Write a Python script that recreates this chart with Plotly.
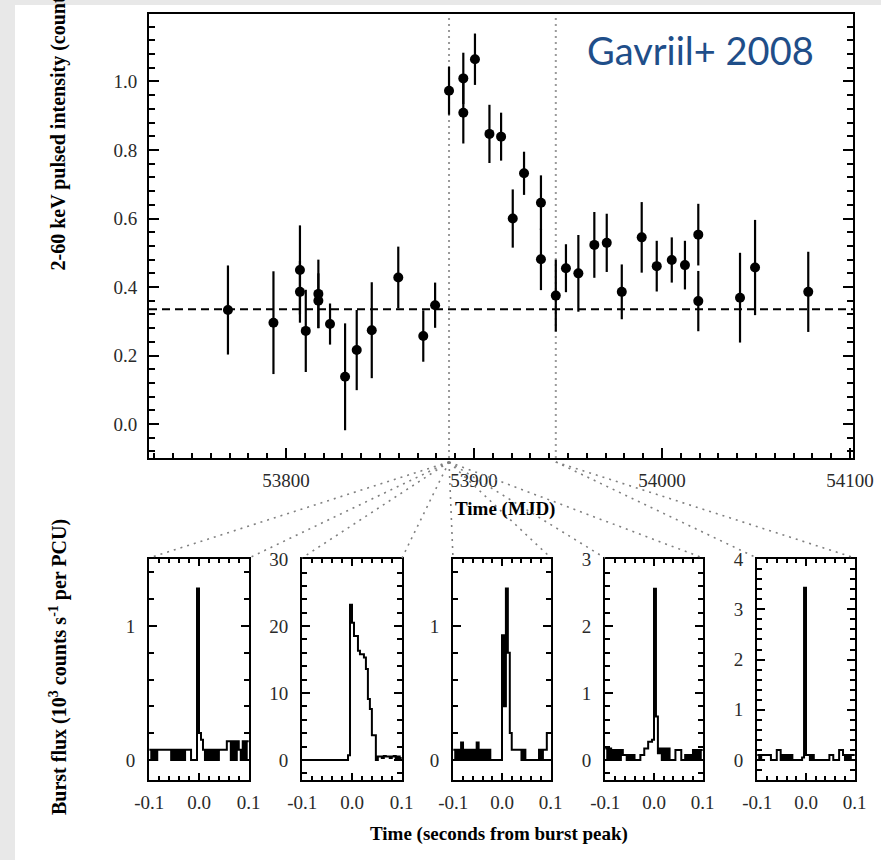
import numpy as np
import plotly.graph_objects as go

# ---------------- data ----------------
# top panel: pulsed intensity vs time
mjd = [53769.1, 53793.3, 53807.4, 53807.4, 53810.5, 53817.2, 53817.2, 53823.4, 53831.4, 53837.6,
       53845.6, 53859.7, 53873.0, 53879.3, 53886.7, 53894.3, 53894.3, 53900.5, 53908.2, 53914.4,
       53920.6, 53926.6, 53935.6, 53935.6, 53943.5, 53948.9, 53955.5, 53964.0, 53970.6, 53978.6,
       53989.2, 53997.2, 54005.2, 54012.2, 54019.3, 54019.3, 54041.5, 54049.5, 54077.8]
pulsed = [0.333, 0.296, 0.450, 0.386, 0.272, 0.380, 0.360, 0.292, 0.138, 0.216,
          0.274, 0.428, 0.257, 0.347, 0.973, 1.009, 0.909, 1.065, 0.847, 0.839,
          0.600, 0.732, 0.646, 0.481, 0.375, 0.455, 0.440, 0.523, 0.529, 0.386,
          0.545, 0.461, 0.479, 0.464, 0.553, 0.359, 0.369, 0.457, 0.386]
pulsed_err = [0.130, 0.150, 0.130, 0.090, 0.120, 0.100, 0.080, 0.060, 0.156, 0.117,
              0.140, 0.090, 0.075, 0.066, 0.070, 0.075, 0.090, 0.075, 0.085, 0.070,
              0.085, 0.063, 0.080, 0.090, 0.105, 0.070, 0.112, 0.096, 0.085, 0.080,
              0.103, 0.074, 0.066, 0.071, 0.090, 0.088, 0.131, 0.139, 0.117]
quiescent_level = 0.335
window_mjd = [53886.7, 53943.5]

# bottom panels: burst light curves (10^3 counts/s per PCU), 50 bins from -0.1 s to 0.1 s
burst_mjd = [53886.7, 53886.7, 53886.7, 53886.7, 53943.5]
bin_width = 0.004
flux_burst1 = [0.075, 0, 0.075, 0,
               0.075, 0.075, 0.075, 0.075, 0.075, 0.075, 0.075,
               0, 0.075, 0, 0.075, 0, 0.075, 0,
               0.075, 0.075, 0.075,
               0, 0, 0,
               1.28, 0.2, 0.15, 0.075,
               0, 0.075, 0, 0.075, 0, 0.075, 0,
               0.075, 0.075, 0.075, 0.075,
               0.14, 0.14,
               0, 0.14, 0, 0.14, 0.075, 0, 0.14, 0, 0.14]
flux_burst2 = [0, 0, 0, 0, 0, 0, 0, 0, 0, 0, 0, 0, 0, 0, 0, 0, 0, 0, 0, 0, 0, 0, 0,
               0.7,
               23.2, 20.5, 18.5, 18.5, 16.3, 15.8, 15.8, 15.3, 13.6, 9.1, 7.6, 3.7, 3.7,
               0, 0.5, 0.5, 0.3, 0.6, 0.5, 0.5, 0.3, 0.5, 0.6, 0.3, 0.5, 0.3]
flux_burst3 = [0.075, 0, 0.075, 0,
               0.13,
               0, 0.075, 0, 0.075, 0, 0.075, 0,
               0.13,
               0, 0.075, 0, 0.075, 0, 0.075,
               0, 0, 0, 0, 0, 0,
               0.93, 0.4, 1.28, 0.8, 0.2,
               0.075, 0.075, 0.075, 0.075,
               0.075, 0, 0.075, 0,
               0, 0, 0, 0, 0, 0,
               0.075, 0, 0.075, 0.075,
               0.2, 0.2]
flux_burst4 = [0.17, 0, 0.17, 0,
               0.15, 0, 0.15, 0, 0.15,
               0.075, 0.075,
               0, 0.075, 0, 0.075,
               0, 0, 0,
               0.075, 0.075,
               0.17, 0.17,
               0.27, 0.27, 0.3,
               2.56, 0.65, 0.1,
               0.17, 0, 0.17, 0, 0.17,
               0, 0, 0,
               0.15, 0.15, 0.15,
               0, 0,
               0.075, 0, 0.075, 0,
               0.15, 0, 0.15, 0, 0.15]
flux_burst5 = [0.1, 0, 0.1,
               0.1, 0.1, 0.1, 0.1,
               0, 0, 0,
               0.2, 0.2,
               0, 0.1, 0, 0.1, 0, 0.1,
               0, 0, 0, 0, 0,
               0.05, 3.43, 0.1, 0.1,
               0, 0.1, 0,
               0, 0, 0, 0, 0, 0, 0,
               0.1, 0.1,
               0, 0, 0,
               0.2, 0.2,
               0.1, 0, 0.1, 0, 0.1, 0.1]
burst_fluxes = [flux_burst1, flux_burst2, flux_burst3, flux_burst4, flux_burst5]
burst_ytick_labels = [["0", "1"], ["0", "10", "20", "30"], ["0", "1"],
                      ["0", "1", "2", "3"], ["0", "1", "2", "3", "4"]]
time_tick_labels = ["-0.1", "0.0", "0.1"]

# ---------------- layout geometry (pixels) ----------------
W, H = 881, 860
top_px = dict(x=(149, 853), y=(14, 458))
panel_px_x = [(149, 249), (302, 402), (453, 551), (605, 703), (757, 855)]
panel_px_y = (559, 780)
top_xrange = [53727.1, 54101.6]
top_yrange = [-0.099, 1.197]
panel_yranges = [[-0.15, 1.5], [-3, 30.02], [-0.15, 1.5], [-0.3, 3.003], [-0.4, 4.004]]
panel_minor = [0.2, 2, 0.2, 0.2, 0.2]


def xdom(a, b):
    return [a / W, b / W]


def ydom(a, b):
    return [1 - b / H, 1 - a / H]


SERIF = "Liberation Serif"
TICKFONT = dict(family=SERIF, size=19, color="#2a2a2a")

fig = go.Figure()

# top panel points with error bars
fig.add_trace(go.Scatter(
    x=mjd, y=pulsed, mode="markers",
    marker=dict(color="black", size=10),
    error_y=dict(type="data", array=pulsed_err, width=0, thickness=2.2, color="black"),
    xaxis="x", yaxis="y", showlegend=False, hoverinfo="skip"))

# burst histograms
for i, flux in enumerate(burst_fluxes):
    edges = -0.1 + bin_width * np.arange(len(flux) + 1)
    fig.add_trace(go.Scatter(
        x=edges, y=list(flux) + [flux[-1]], mode="lines", line_shape="hv",
        line=dict(color="black", width=2),
        xaxis=f"x{i + 2}", yaxis=f"y{i + 2}", showlegend=False, hoverinfo="skip"))

layout = dict(
    template="none",
    width=W, height=H, margin=dict(l=0, r=0, t=0, b=0, autoexpand=False),
    paper_bgcolor="white", plot_bgcolor="white",
    font=dict(family=SERIF, color="black"),
    xaxis=dict(domain=xdom(*top_px["x"]), anchor="y", range=top_xrange, automargin=False,
               showline=True, linecolor="black", linewidth=2, mirror=True,
               ticks="inside", ticklen=10, tickwidth=1.5, tickcolor="black",
               tick0=53800, dtick=100, tickformat="d",
               minor=dict(ticks="inside", ticklen=5, tick0=53800, dtick=10,
                          tickcolor="black", tickwidth=1.5, showgrid=False),
               showgrid=False, zeroline=False, tickfont=TICKFONT, ticklabelstandoff=4),
    yaxis=dict(domain=ydom(*top_px["y"]), anchor="x", range=top_yrange, automargin=False,
               showline=True, linecolor="black", linewidth=2, mirror="ticks",
               ticks="inside", ticklen=10, tickwidth=1.5, tickcolor="black",
               tick0=0, dtick=0.2, tickformat=".1f",
               minor=dict(ticks="inside", ticklen=6, tick0=0, dtick=0.04,
                          tickcolor="black", tickwidth=1.5, showgrid=False),
               showgrid=False, zeroline=False, tickfont=TICKFONT, ticklabelstandoff=6),
)

for i in range(5):
    n = i + 2
    ytv = [float(t) for t in burst_ytick_labels[i]]
    layout[f"xaxis{n}"] = dict(
        domain=xdom(*panel_px_x[i]), anchor=f"y{n}", range=[-0.1006, 0.1006], automargin=False,
        showline=True, linecolor="black", linewidth=2, mirror="ticks",
        ticks="inside", ticklen=7, tickwidth=1.5, tickcolor="black",
        tickmode="array", tickvals=[-0.1, 0.0, 0.1], ticktext=time_tick_labels,
        minor=dict(ticks="inside", ticklen=4, tickmode="linear", tick0=0, dtick=0.02,
                   tickcolor="black", tickwidth=1.5, showgrid=False),
        showgrid=False, zeroline=False, tickfont=TICKFONT, ticklabelstandoff=4)
    layout[f"yaxis{n}"] = dict(
        domain=ydom(*panel_px_y), anchor=f"x{n}", range=panel_yranges[i], automargin=False,
        showline=True, linecolor="black", linewidth=2, mirror="ticks",
        ticks="inside", ticklen=8, tickwidth=1.5, tickcolor="black",
        tickmode="array", tickvals=ytv, ticktext=burst_ytick_labels[i],
        minor=dict(ticks="inside", ticklen=5, tickmode="linear", tick0=0,
                   dtick=panel_minor[i], tickcolor="black", tickwidth=1.5, showgrid=False),
        showgrid=False, zeroline=False, tickfont=TICKFONT, ticklabelstandoff=8)

fig.update_layout(**layout)

shapes = []
# grey page strips
shapes.append(dict(type="rect", xref="paper", yref="paper", x0=0, x1=15 / W, y0=0, y1=1,
                   fillcolor="#e8e8e8", line=dict(width=0), layer="below"))
shapes.append(dict(type="rect", xref="paper", yref="paper", x0=0, x1=1, y0=1 - 5 / H, y1=1,
                   fillcolor="#e8e8e8", line=dict(width=0), layer="below"))
# quiescent level
shapes.append(dict(type="line", xref="x domain", yref="y", x0=0, x1=1,
                   y0=quiescent_level, y1=quiescent_level, layer="below",
                   line=dict(color="black", width=2, dash="8px,5px")))
# window lines
for m in window_mjd:
    shapes.append(dict(type="line", xref="x", yref="y domain", x0=m, x1=m, y0=0, y1=1,
                       layer="below",
                       line=dict(color="#9a9a9a", width=2, dash="2px,4px")))


# connectors from burst epoch to the panels
def mjd_to_paper(m):
    d0, d1 = xdom(*top_px["x"])
    return d0 + (m - top_xrange[0]) / (top_xrange[1] - top_xrange[0]) * (d1 - d0)


y_start = 1 - (top_px["y"][1] + 4) / H
y_end = 1 - (panel_px_y[0] - 1) / H
for i, m in enumerate(burst_mjd):
    xs = mjd_to_paper(m)
    for px in panel_px_x[i]:
        shapes.append(dict(type="line", xref="paper", yref="paper",
                           x0=xs, y0=y_start, x1=px / W, y1=y_end,
                           line=dict(color="#808080", width=1.6, dash="2px,5px")))
fig.update_layout(shapes=shapes)

TITLEFONT = dict(family=SERIF, size=19, color="black", weight="bold")
YTITLEFONT = dict(family=SERIF, size=20, color="black", weight="bold")
annotations = [
    dict(text="Gavriil+ 2008", x=700 / W, y=1 - 50 / H, xref="paper", yref="paper",
         showarrow=False, xanchor="center", yanchor="middle",
         font=dict(family="Lato", size=38, color="#1F4E89")),
    dict(text="Time (MJD)", x=505 / W, y=1 - 509 / H, xref="paper", yref="paper",
         showarrow=False, xanchor="center", yanchor="middle", font=TITLEFONT),
    dict(text="Time (seconds from burst peak)", x=499 / W, y=1 - 834 / H, xref="paper",
         yref="paper", showarrow=False, xanchor="center", yanchor="middle", font=TITLEFONT),
    dict(text="2-60 keV pulsed intensity (counts s<sup>-1</sup> per PCU)", x=57 / W,
         y=1 - 273 / H, xref="paper", yref="paper", showarrow=False, textangle=-90,
         xanchor="center", yanchor="bottom", font=YTITLEFONT),
    dict(text="Burst flux (10<sup>3</sup> counts s<sup>-1</sup> per PCU)", x=58 / W,
         y=1 - 667 / H, xref="paper", yref="paper", showarrow=False, textangle=-90,
         xanchor="center", yanchor="middle", font=YTITLEFONT),
]
fig.update_layout(annotations=annotations)

fig.write_html("out.html")
